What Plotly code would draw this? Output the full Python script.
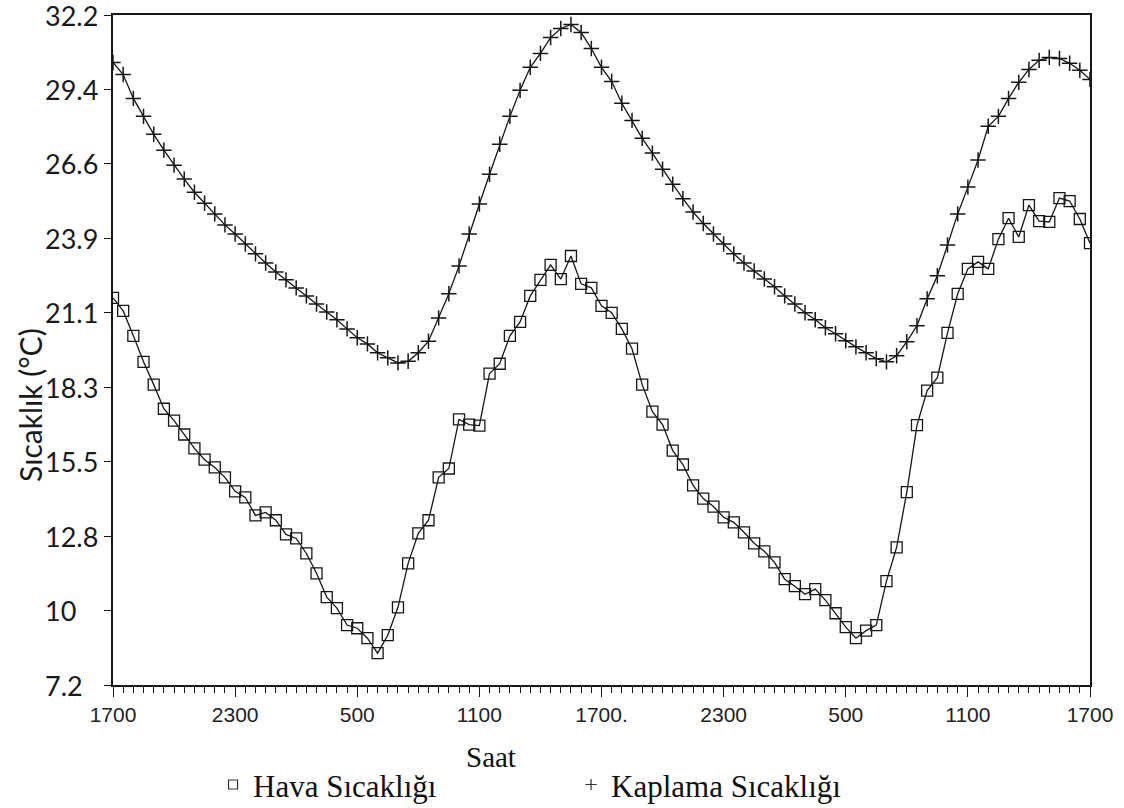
import plotly.graph_objects as go

# Half-hourly readings over 48 hours, starting at 17:00
air_temp = [
    21.67, 21.18, 20.25, 19.28, 18.43, 17.53, 17.09, 16.57, 16.05, 15.63,
    15.34, 14.97, 14.45, 14.22, 13.55, 13.66, 13.37, 12.84, 12.69, 12.13,
    11.39, 10.50, 10.09, 9.46, 9.34, 8.97, 8.41, 9.08, 10.12, 11.76,
    12.88, 13.37, 14.97, 15.30, 17.13, 16.94, 16.90, 18.84, 19.21, 20.25,
    20.77, 21.74, 22.34, 22.90, 22.37, 23.23, 22.19, 22.04, 21.37, 21.11,
    20.51, 19.77, 18.43, 17.42, 16.94, 15.97, 15.45, 14.67, 14.18, 13.88,
    13.48, 13.29, 12.92, 12.51, 12.21, 11.80, 11.17, 10.91, 10.61, 10.80,
    10.39, 9.90, 9.38, 8.97, 9.25, 9.46, 11.10, 12.36, 14.42, 16.92,
    18.21, 18.69, 20.36, 21.82, 22.75, 23.01, 22.75, 23.86, 24.64, 23.94,
    25.13, 24.53, 24.50, 25.39, 25.28, 24.61, 23.71,
]
pavement_temp = [
    30.45, 30.00, 29.11, 28.44, 27.77, 27.18, 26.62, 26.10, 25.61, 25.20,
    24.80, 24.39, 24.05, 23.68, 23.31, 22.97, 22.63, 22.34, 22.04, 21.74,
    21.44, 21.14, 20.85, 20.51, 20.18, 19.95, 19.62, 19.43, 19.24, 19.30,
    19.62, 20.05, 20.92, 21.82, 22.86, 24.05, 25.17, 26.28, 27.40, 28.44,
    29.41, 30.27, 30.79, 31.38, 31.72, 31.87, 31.57, 30.97, 30.27, 29.74,
    28.93, 28.29, 27.62, 27.07, 26.47, 25.91, 25.37, 24.87, 24.44, 24.05,
    23.68, 23.31, 22.97, 22.67, 22.37, 22.08, 21.74, 21.44, 21.11, 20.85,
    20.55, 20.33, 20.07, 19.84, 19.62, 19.40, 19.28, 19.51, 20.03, 20.63,
    21.63, 22.49, 23.64, 24.80, 25.80, 26.81, 28.07, 28.44, 29.11, 29.71,
    30.19, 30.53, 30.64, 30.60, 30.42, 30.16, 29.82,
]
hours = [i * 0.5 for i in range(len(air_temp))]

x_tick_vals = [0, 6, 12, 18, 24, 30, 36, 42, 48]
x_tick_text = ["1700", "2300", "500", "1100", "1700.", "2300", "500", "1100", "1700"]
# °C ticks sitting on whole 5 °F steps (45 °F ... 90 °F)
y_tick_f = [45, 50, 55, 60, 65, 70, 75, 80, 85, 90]
y_tick_text = ["7.2", "10", "12.8", "15.5", "18.3", "21.1", "23.9", "26.6", "29.4", "32.2"]
y_tick_vals = [(f - 32) * 5 / 9 for f in y_tick_f]

INK = "#161616"

fig = go.Figure()
fig.add_trace(go.Scatter(
    x=hours, y=air_temp, mode="lines+markers", showlegend=False,
    line=dict(color=INK, width=1.3),
    marker=dict(symbol="square-open", size=11, color=INK, line=dict(width=1.3)),
))
fig.add_trace(go.Scatter(
    x=hours, y=pavement_temp, mode="lines+markers", showlegend=False,
    line=dict(color=INK, width=1.3),
    marker=dict(symbol="cross-thin-open", size=11, color=INK, line=dict(width=1.5)),
))
# legend-only entries (marker symbol without the connecting line)
fig.add_trace(go.Scatter(
    x=[None], y=[None], mode="markers", name="Hava Sıcaklığı",
    marker=dict(symbol="square-open", size=9, color="#333", line=dict(width=1.2)),
))
fig.add_trace(go.Scatter(
    x=[None], y=[None], mode="markers", name="Kaplama Sıcaklığı",
    marker=dict(symbol="cross-thin-open", size=8, color="#333", line=dict(width=1.2)),
))

annotations = []
for v, t in zip(y_tick_vals, y_tick_text):
    annotations.append(dict(
        x=-0.0716, xref="paper", y=v, yref="y", text=t, showarrow=False,
        xanchor="left", yanchor="middle",
        font=dict(family="Lato", size=27, color="#1a1a1a"),
    ))
annotations.append(dict(
    x=-0.085, xref="paper", y=0.418, yref="paper", text="Sıcaklık (°C)",
    textangle=-90, showarrow=False, xanchor="center", yanchor="middle",
    font=dict(family="Lato", size=30, color="#1a1a1a"),
))
annotations.append(dict(
    x=0.387, xref="paper", y=-0.107, yref="paper", text="Saat",
    showarrow=False, xanchor="center", yanchor="middle",
    font=dict(family="Liberation Serif", size=29, color="#111"),
))

fig.update_layout(
    width=1124, height=808,
    margin=dict(l=113, r=34, t=15, b=123, autoexpand=False),
    paper_bgcolor="white", plot_bgcolor="white",
    annotations=annotations,
    legend=dict(
        orientation="h", x=0.1024, xanchor="left", y=-0.149, yanchor="middle",
        entrywidth=313, entrywidthmode="pixels",
        font=dict(family="Liberation Serif", size=31, color="#111"),
        bgcolor="rgba(0,0,0,0)", itemclick=False,
    ),
)
fig.update_xaxes(
    range=[0, 48], showgrid=False, zeroline=False,
    showline=True, linecolor=INK, linewidth=1.5, mirror=True,
    tickmode="array", tickvals=x_tick_vals, ticktext=x_tick_text,
    ticks="outside", ticklen=10, tickwidth=1.3, tickcolor=INK,
    tickfont=dict(family="Liberation Sans", size=21, color="#222"),
    minor=dict(tickmode="linear", tick0=0, dtick=0.5, ticks="outside",
               ticklen=6, tickwidth=1, tickcolor=INK, showgrid=False),
)
fig.update_yaxes(
    range=[y_tick_vals[0], y_tick_vals[-1]], showgrid=False, zeroline=False,
    showline=True, linecolor=INK, linewidth=1.5, mirror=True,
    tickmode="array", tickvals=y_tick_vals, showticklabels=False,
    ticks="outside", ticklen=7, tickwidth=1.3, tickcolor=INK,
)

fig.write_html("out.html")
